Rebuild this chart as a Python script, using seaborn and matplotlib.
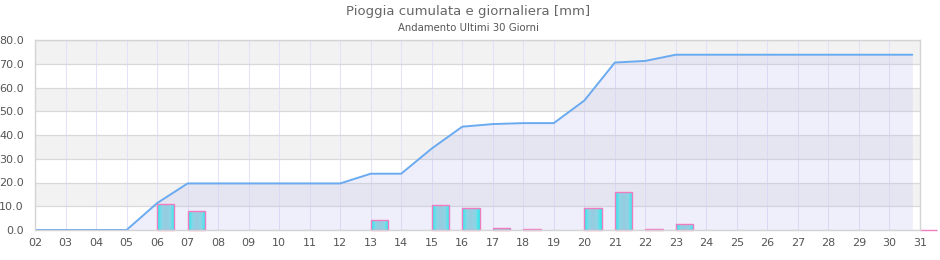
import numpy as np
import pandas as pd
import matplotlib
matplotlib.use("Agg")
import matplotlib.pyplot as plt
import seaborn as sns
from matplotlib.colors import LinearSegmentedColormap

# ---- data ----
day_labels = ["02", "03", "04", "05", "06", "07", "08", "09", "10", "11", "12", "13", "14", "15", "16",
              "17", "18", "19", "20", "21", "22", "23", "24", "25", "26", "27", "28", "29", "30", "31"]
daily_rain = [0, 0, 0, 0, 10.8, 7.9, 0, 0, 0, 0, 0, 4.1, 0, 10.4, 9.1,
              1.0, 0.3, 0, 9.1, 15.9, 0.55, 2.4, 0, 0, 0, 0, 0, 0, 0, 0]
cum_x = [2, 3, 4, 5, 6, 7, 8, 9, 10, 11, 12, 13, 14, 15, 16, 17, 18, 19, 20, 21, 22, 23,
         24, 25, 26, 27, 28, 29, 30, 30.75]
cum_rain = [0, 0, 0, 0, 11.3, 19.6, 19.6, 19.6, 19.6, 19.6, 19.6, 23.7, 23.7, 34.3, 43.5,
            44.6, 45.0, 45.0, 54.5, 70.5, 71.2, 73.8, 73.8, 73.8, 73.8, 73.8, 73.8, 73.8, 73.8, 73.8]
y_ticks = [0, 10, 20, 30, 40, 50, 60, 70, 80]
title = "Pioggia cumulata e giornaliera [mm]"
subtitle = "Andamento Ultimi 30 Giorni"

days = [int(d) for d in day_labels]

sns.set_style("white")
plt.rcParams["font.family"] = ["DejaVu Sans"]

fig = plt.figure(figsize=(9.4, 2.6), dpi=100)
ax = fig.add_axes([35 / 940, 30 / 260, 885 / 940, 190 / 260])
ax.set_xlim(2, 31)
ax.set_ylim(0, 80)

# alternating bands
for i in range(len(y_ticks) - 1):
    if i % 2 == 1:
        ax.axhspan(y_ticks[i], y_ticks[i + 1], color="#f2f2f2", zorder=0, lw=0)

# grid lines
for d in days:
    ax.axvline(d, color="#e2e2f8", lw=0.75, zorder=0.5)
for yv in y_ticks:
    ax.axhline(yv, color="#d9d9d9", lw=0.9, zorder=0.6)

# cumulative area + line
df = pd.DataFrame({"x": cum_x, "y": cum_rain})
ax.fill_between(df["x"], df["y"], 0, color="#bebef2", alpha=0.23, lw=0, zorder=0.8)
sns.lineplot(data=df, x="x", y="y", ax=ax, color="#6aaaf0", lw=1.4, zorder=3)

# bars with horizontal gradient
cmap = LinearSegmentedColormap.from_list("g", ["#98cbe0", "#8ed4e6", "#22f0f0"])
bars = ax.bar(days, daily_rain, width=0.57, align="edge", facecolor="none",
              edgecolor="#f07cc0", lw=1.0, zorder=4, clip_on=False)
xmax = ax.get_xlim()[1]
xs = np.linspace(0, 1, 64)
g = np.abs(xs - 0.5) * 2
g[: len(g) // 2] = g[: len(g) // 2] ** 0.9
for b, v in zip(bars, daily_rain):
    x0 = b.get_x()
    if v <= 0:
        if x0 < xmax:
            b.set_visible(False)
        continue
    w = b.get_width()
    im = ax.imshow(g[None, :], cmap=cmap, vmin=0, vmax=1, aspect="auto",
                   extent=[x0, x0 + w, 0, v], zorder=3.5, interpolation="bilinear")
    im.set_clip_path(b)

# spines
for s in ax.spines.values():
    s.set_color("#d4d4d4")
    s.set_linewidth(1.0)
    s.set_zorder(5)

ax.set_xticks(days)
ax.set_xticklabels(day_labels)
ax.set_yticks(y_ticks)
ax.set_yticklabels([f"{v:.1f}" for v in y_ticks])
ax.tick_params(axis="both", length=0, labelsize=8, colors="#555555", pad=6)
ax.tick_params(axis="y", pad=8)
ax.set_xlabel("")
ax.set_ylabel("")
ax.set_aspect("auto")

fig.text(468 / 940, 1 - 11 / 260, title, ha="center", va="center", fontsize=9.5, color="#666666")
fig.text(468 / 940, 1 - 28 / 260, subtitle, ha="center", va="center", fontsize=7.3, color="#555555")

fig.savefig("out.png", dpi=100)
